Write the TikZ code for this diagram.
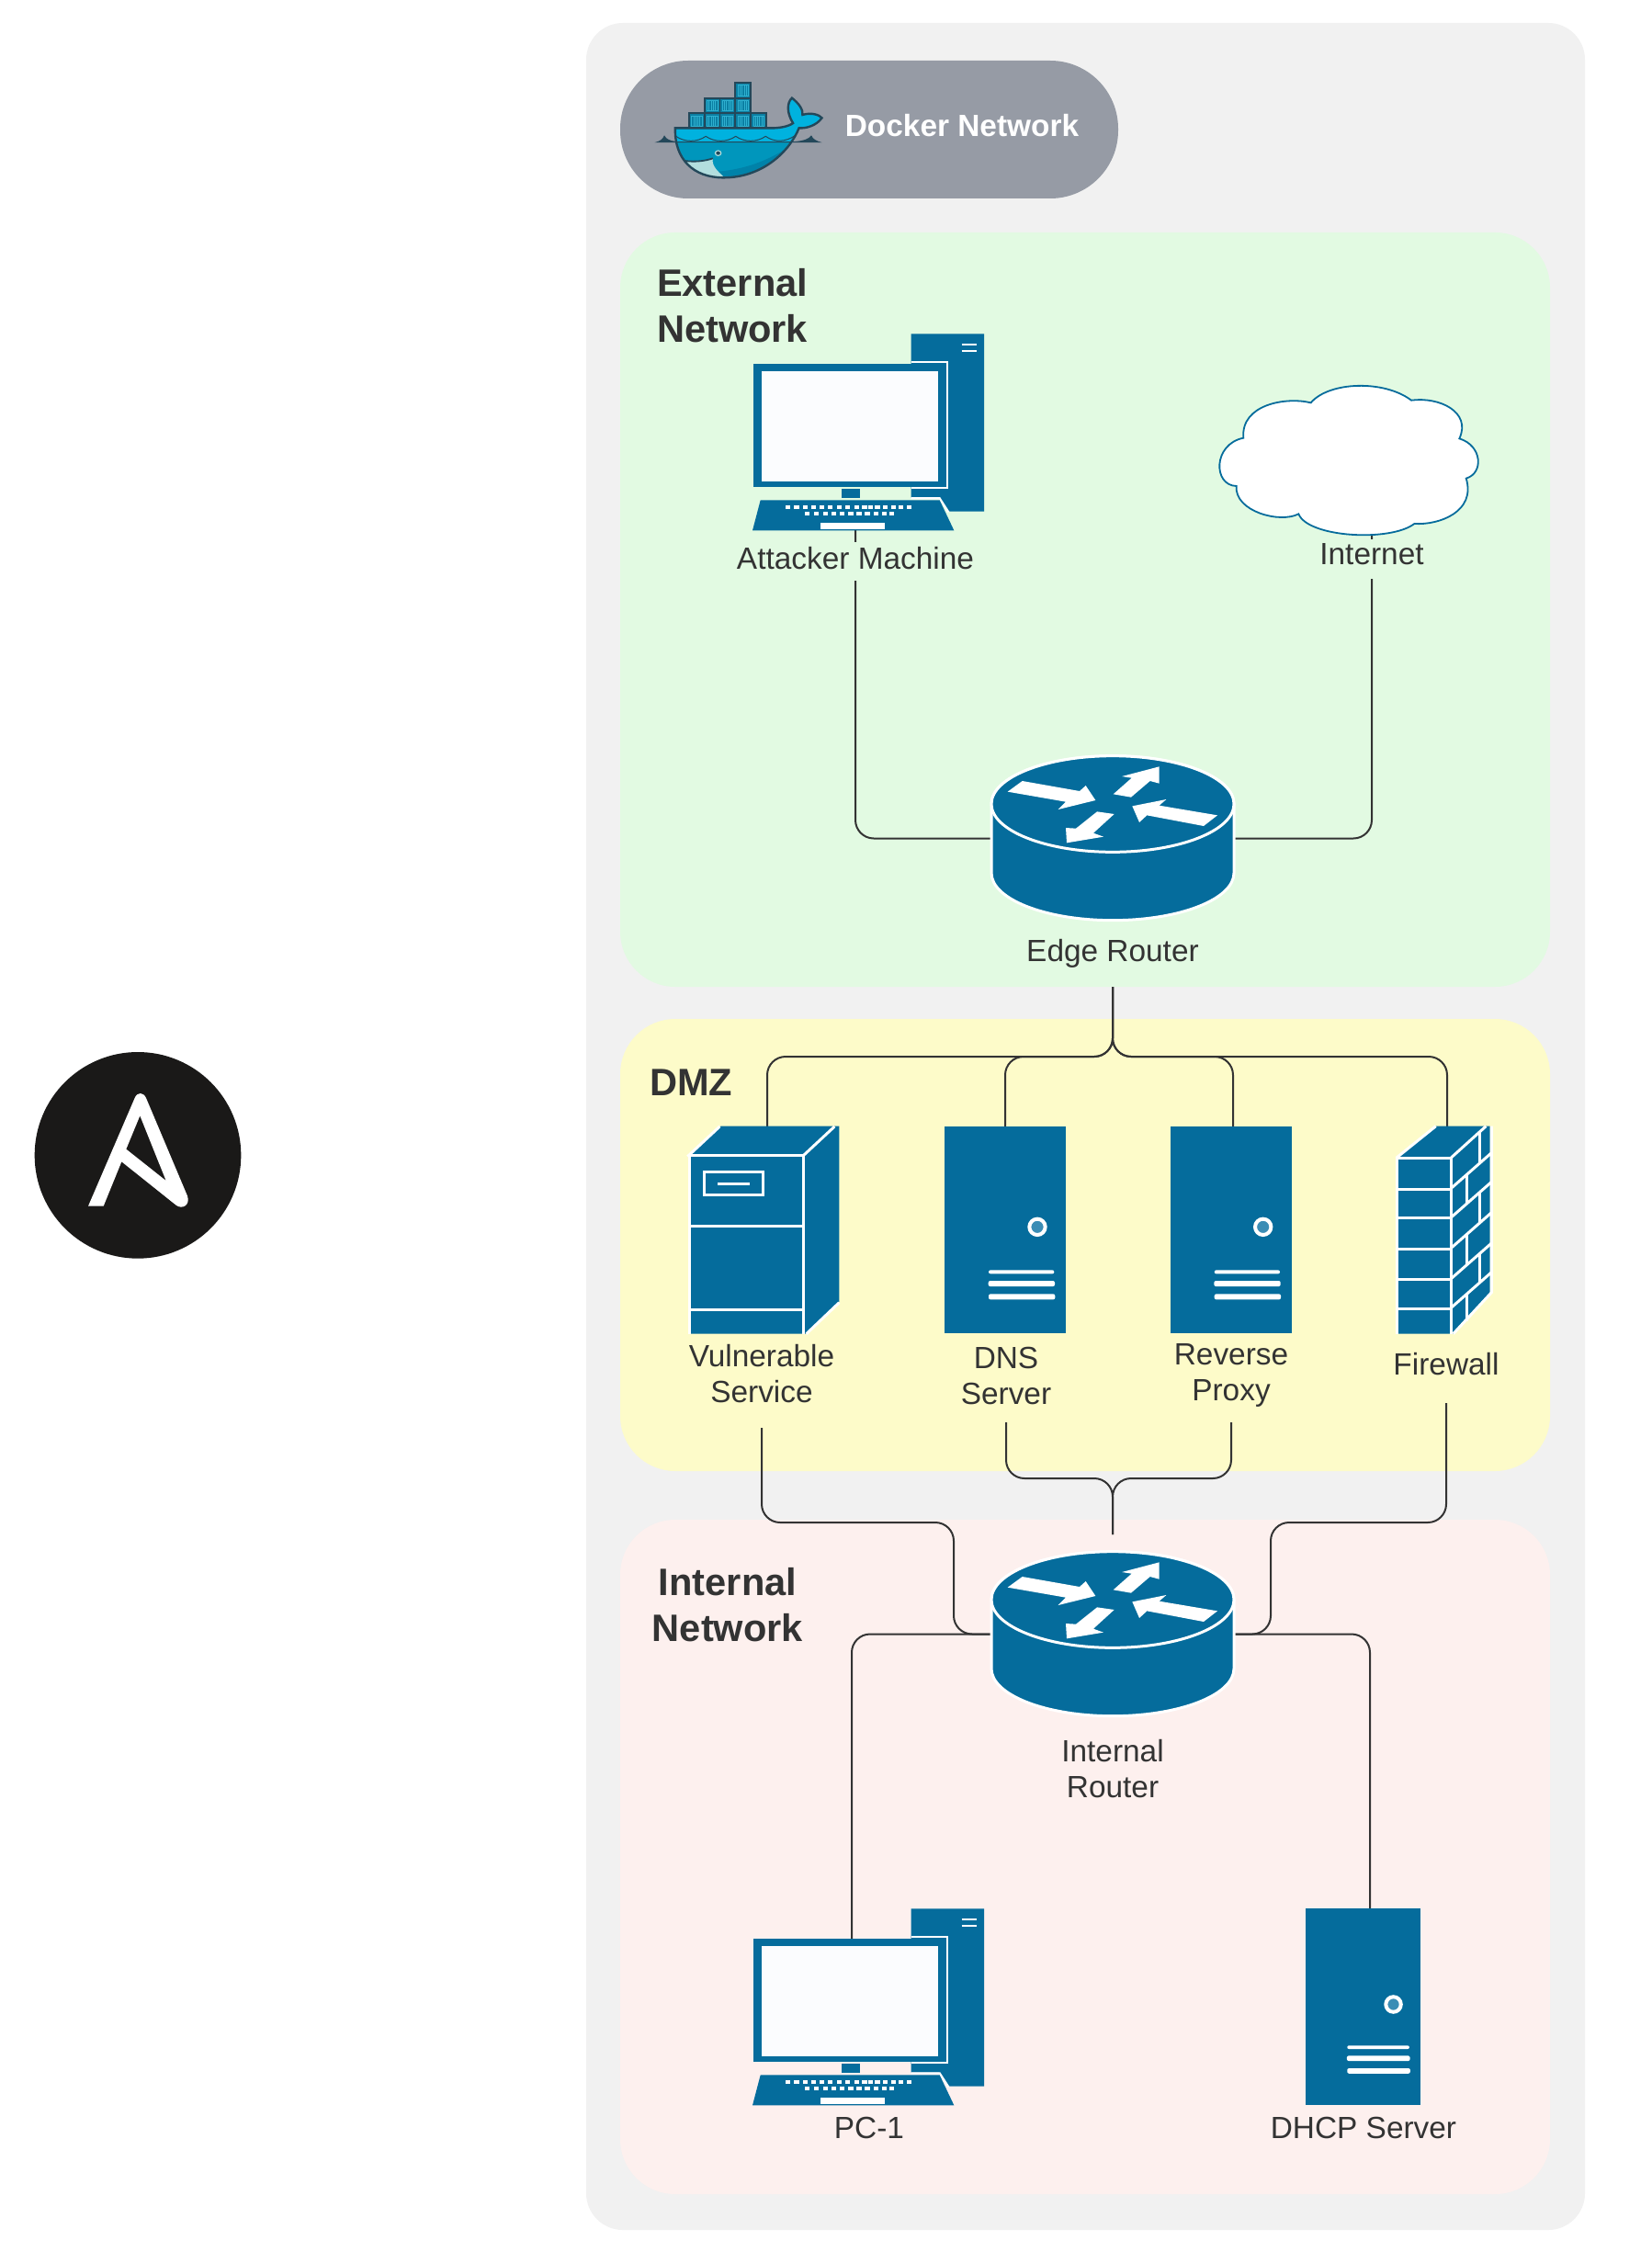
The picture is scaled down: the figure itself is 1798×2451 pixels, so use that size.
\documentclass[tikz,border=0pt]{standalone}
\usepackage{fontspec}
\setmainfont{Liberation Sans}
\definecolor{outerbg}{HTML}{F1F1F1}
\definecolor{pillc}{HTML}{969BA5}
\definecolor{greenz}{HTML}{E2FAE2}
\definecolor{yellowz}{HTML}{FDFBC9}
\definecolor{pinkz}{HTML}{FDF0EE}
\definecolor{devb}{HTML}{056C9C}
\definecolor{ledc}{HTML}{3B8DB5}
\definecolor{screenc}{HTML}{FBFCFE}
\definecolor{txt}{HTML}{333333}
\definecolor{wdark}{HTML}{24485A}
\definecolor{wup}{HTML}{00B2DF}
\definecolor{wmid}{HTML}{0096BC}
\definecolor{wlow}{HTML}{0082A9}
\definecolor{wbelly}{HTML}{B2DEDE}
\definecolor{wbox}{HTML}{0B7FA3}
\definecolor{wstripe}{HTML}{2FB0CF}
\definecolor{ansb}{HTML}{1A1918}
\newcommand{\whalepath}{(248,298) -- (510,298) .. controls (545,300) and (572,292) .. (583,282) .. controls (565,250) and (565,215) .. (580,200) .. controls (600,218) and (612,238) .. (610,255) .. controls (635,246) and (658,255) .. (665,265) .. controls (650,290) and (620,300) .. (600,298) .. controls (575,370) and (500,460) .. (385,460) .. controls (300,460) and (245,400) .. (248,298) -- cycle}
\tikzset{
  zm/.style={x=0.16667pt,y=-0.16667pt},
  wz/.style={x=0.19135pt,y=-0.16667pt},
  zone/.style={rounded corners=#1},
  link/.style={draw=txt,line width=1pt,rounded corners=10pt},
  wline/.style={draw=white,line width=1.5pt},
  dev/.style={inner sep=0pt,outer sep=0pt},
  lab/.style={font=\fontsize{16.7}{19.5}\selectfont,text=txt,inner sep=0pt,outer sep=0pt,align=center},
  head/.style={font=\fontsize{20.8}{25}\selectfont\bfseries,text=txt,inner sep=0pt,outer sep=0pt},
  netrouter/.pic={
    \begin{scope}[zm]
      \path[fill=devb,wline] (57,225) -- (57,450) .. controls (57,536) and (234,605) .. (453,605) .. controls (672,605) and (849,536) .. (849,450) -- (849,225) .. controls (849,138) and (672,68) .. (453,68) .. controls (234,68) and (57,138) .. (57,225) -- cycle;
      \path[fill=devb,wline] (453,225) ellipse [x radius=396,y radius=157];
      \fill[white] (110,185)--(158,150)--(345,183)--(365,165)--(397,213)--(275,243)--(300,218)--cycle;
      \fill[white] (455,193)--(515,140)--(483,135)--(605,103)--(605,158)--(575,150)--(513,203)--cycle;
      \fill[white] (795,262)--(750,297)--(565,262)--(540,285)--(517,232)--(628,210)--(605,230)--cycle;
      \fill[white] (458,258)--(390,320)--(423,332)--(303,352)--(300,303)--(333,305)--(402,250)--cycle;
    \end{scope}
  },
  netcomputer/.pic={
    \begin{scope}[zm]
      \fill[devb] (635,70)--(873,70)--(873,650)--(757,650)--(728,605)--(635,605)--cycle;
      \fill[devb] (120,168) rectangle (750,570);
      \fill[screenc] (148,192) rectangle (722,552);
      \draw[white,line width=1.1pt] (635,163)--(753,163)--(753,572)--(635,572);
      \draw[white,line width=1.1pt] (635,607)--(728,607)--(757,652);
      \draw[white,line width=1.1pt] (800,104)--(848,104) (800,126)--(848,126);
      \fill[devb] (408,576) rectangle (468,605);
      \fill[devb] (143,613)--(728,613)--(775,712)--(117,712)--cycle;
      \fill[white] (340,688) rectangle (549,707);
      \foreach \kx in {225,253,282,309,335,363,393,420,450,475,495,517,543,570,593,620} {\fill[white] (\kx,630) rectangle ++(16,11);}
      \foreach \kx in {288,318,347,374,402,430,457,484,512,540,563} {\fill[white] (\kx,652) rectangle ++(16,12);}
    \end{scope}
  },
  netserver/.pic={
    \begin{scope}[zm]
      \fill[devb] (55,48) rectangle (450,722);
      \fill[ledc,draw=white,line width=2pt] (357,376) circle [radius=26];
      \fill[white,rounded corners=1pt] (198,517) rectangle (412,529);
      \fill[white,rounded corners=1pt] (197,552) rectangle (414,570);
      \fill[white,rounded corners=1pt] (198,595) rectangle (415,613);
    \end{scope}
  },
  nettower/.pic={
    \begin{scope}[zm]
      \fill[devb] (60,173)--(163,77)--(550,77)--(550,650)--(440,755)--(60,755)--cycle;
      \draw[wline] (60,755)--(60,173)--(433,173)--(433,755);
      \draw[wline] (55,176)--(160,78) (433,173)--(535,78);
      \draw[wline] (550,653)--(443,755);
      \draw[wline] (60,403)--(433,403) (60,677)--(433,677);
      \draw[wline] (108,227) rectangle (300,302);
      \draw[wline] (153,264)--(257,264);
    \end{scope}
  },
  netwall/.pic={
    \begin{scope}[zm]
      \fill[devb] (60,148)--(188,47)--(365,47)--(365,590)--(245,725)--(60,725)--cycle;
      \draw[wline] (60,725)--(60,150)--(238,150)--(238,725);
      \draw[wline] (60,150)--(188,47);
      \foreach \ry in {252,347,447,547,642} {\draw[wline] (60,\ry)--(238,\ry);}
      \draw[wline] (238,150)--(352,47);
      \foreach \ry in {250,345,445,545,640} {\draw[wline] (238,\ry)--(370,\ry-116);}
      \draw[wline] (370,47)--(370,590)--(245,725);
      \draw[wline] (332,69)--(332,169) (290,206)--(290,301) (332,264)--(332,364) (290,401)--(290,501) (332,464)--(332,559) (290,596)--(290,685);
    \end{scope}
  },
  netcloud/.pic={
    \begin{scope}[zm]
      \path[fill=white,draw=devb,line width=.9pt] (160,230) .. controls (150,120) and (300,95) .. (380,115) .. controls (440,45) and (620,40) .. (708,107) .. controls (800,95) and (905,145) .. (865,232) .. controls (940,255) and (945,345) .. (887,362) .. controls (920,470) and (800,515) .. (718,510) .. controls (640,570) and (370,555) .. (340,478) .. controls (280,510) and (130,470) .. (137,387) .. controls (60,385) and (60,250) .. (160,230) -- cycle;
    \end{scope}
  },
  ansiblelogo/.pic={
    \begin{scope}[zm]
      \fill[ansb] (390,382) circle [radius=337];
      \fill[white,even odd rule] (228,548)--(380,195) .. controls (388,175) and (408,175) .. (417,195) -- (552,515) .. controls (562,545) and (535,560) .. (515,545) -- (337,403) -- (278,548) -- cycle (397,253)--(352,362)--(482,465)--cycle;
    \end{scope}
  },
  dockerwhale/.pic={
    \begin{scope}[wz]
      \foreach \bx/\by in {287/250,331/250,375/250,419/250,463/250,331/200,375/200,419/200,419/150} {
        \path[fill=wbox,draw=wdark,line width=.9pt] (\bx,\by) rectangle ++(44,50);
        \draw[wstripe,line width=.3pt] (\bx+7,\by+8) rectangle ++(30,34);
        \foreach \sx in {13,19,25,31} {\draw[wstripe,line width=.3pt] (\bx+\sx,\by+8)--++(0,34);}
      }
      \fill[wup] \whalepath;
      \begin{scope}
        \clip \whalepath;
        \fill[wmid] (240,345) rectangle (620,470);
        \fill[wlow] (600,340) .. controls (520,400) and (460,430) .. (372,440) -- (395,470) -- (600,470) -- cycle;
        \fill[wbelly] (270,405) .. controls (300,410) and (335,405) .. (355,397) .. controls (350,425) and (375,445) .. (398,470) -- (270,470) -- cycle;
        \draw[wdark,line width=.5pt] (250,325) .. controls (275,345) and (310,345) .. (335,325) .. controls (360,345) and (395,345) .. (420,325) .. controls (445,345) and (480,345) .. (505,325) .. controls (530,345) and (560,345) .. (590,322);
      \end{scope}
      \draw[wdark,line width=.9pt] (275,405) .. controls (305,410) and (335,405) .. (355,397);
      \fill[wdark] (190,345) .. controls (205,341) and (212,335) .. (217,322) .. controls (222,335) and (235,340) .. (250,342) -- (590,342) .. controls (610,340) and (628,335) .. (635,322) .. controls (640,335) and (650,341) .. (665,345) -- cycle;
      \path[draw=wdark,line width=1.2pt] \whalepath;
      \fill[wbelly] (370,380) circle [radius=10];
      \fill[wdark] (370,380) circle [radius=6];
    \end{scope}
  }
}
\begin{document}
\begin{tikzpicture}[x=0.5pt,y=-0.5pt]
\useasboundingbox (0,0) rectangle (1798,2451);
\fill[white] (0,0) rectangle (1798,2451);
% backgrounds
\fill[outerbg,zone=20pt] (638,25) rectangle (1725,2427);
\fill[pillc,zone=37pt] (675,66) rectangle (1217,216);
\fill[greenz,zone=30pt] (675,253) rectangle (1687,1074);
\fill[yellowz,zone=30pt] (675,1109) rectangle (1687,1601);
\fill[pinkz,zone=30pt] (675,1654) rectangle (1687,2388);
% device anchors
\node[dev,minimum width=110pt,minimum height=90.5pt] (att) at (931,486.5) {};
\node[dev,minimum width=100pt,minimum height=82pt] (cloud) at (1493,500) {};
\node[dev,minimum width=132pt,minimum height=89.5pt] (er) at (1211,912.5) {};
\node[dev,minimum width=132pt,minimum height=89.5pt] (ir) at (1211,1778.5) {};
\node[dev,minimum width=60pt,minimum height=113pt] (vs) at (835,1339) {};
\node[dev,minimum width=60pt,minimum height=113pt] (dns) at (1094,1339) {};
\node[dev,minimum width=60pt,minimum height=113pt] (rp) at (1342,1339) {};
\node[dev,minimum width=50pt,minimum height=113pt] (fw) at (1575,1339) {};
\node[dev,minimum width=110pt,minimum height=90.5pt] (pc) at (927,2200.5) {};
\node[dev,minimum width=60pt,minimum height=107pt] (dhcp) at (1491,2184) {};
% label boxes
\node[lab,minimum height=36.5pt] (erl) at (1211,1037.5) {Edge Router};
\node[lab,minimum height=59pt] (vsl) at (829,1495) {Vulnerable\\Service};
\node[lab,minimum height=51pt] (dnsl) at (1095,1497) {DNS\\Server};
\node[lab,minimum height=51pt] (rpl) at (1340,1497) {Reverse\\Proxy};
\node[lab,minimum height=42pt] (fwl) at (1574,1485) {Firewall};
\node[lab] (irl) at (1211,1925) {Internal\\Router};
\node[lab] (pcl) at (946,2316) {PC-1};
\node[lab] (dhcpl) at (1484,2316) {DHCP Server};
% junction coordinates
\coordinate (bustop) at (1211,1150);
\coordinate (busmid) at (1211,1609);
\coordinate (irtop) at (1211,1670);
\coordinate (viaL) at (1038,1657);
\coordinate (viaR) at (1383,1657);
% connectors
\draw[link] (att.south) |- (er.west);
\draw[link] (cloud.south) |- (er.east);
\draw[link] (erl.south) -- (bustop) -| (vs.north);
\draw[link] (erl.south) -- (bustop) -| (dns.north);
\draw[link] (erl.south) -- (bustop) -| (rp.north);
\draw[link] (erl.south) -- (bustop) -| (fw.north);
\draw[link] (dnsl.south) |- (busmid) -- (irtop);
\draw[link] (rpl.south) |- (busmid) -- (irtop);
\draw[link] (vsl.south) |- (viaL) |- (ir.west);
\draw[link] (fwl.south) |- (viaR) |- (ir.east);
\draw[link] (ir.west) -| (pc.north);
\draw[link] (ir.east) -| (dhcp.north);
% labels that hide the connectors passing behind them
\node[lab,fill=greenz,minimum height=21pt,minimum width=135pt] (attl) at (931,611) {\raisebox{4pt}{Attacker Machine}};
\node[lab,fill=greenz,minimum height=21.5pt,minimum width=75pt] (netl) at (1493,608.5) {\raisebox{5.5pt}{Internet}};
% devices
\pic at (780,340) {netcomputer};
\pic at (780,2054) {netcomputer};
\pic at (1300,400) {netcloud};
\pic at (1060,800) {netrouter};
\pic at (1060,1666) {netrouter};
\pic at (730,1200) {nettower};
\pic at (1010,1210) {netserver};
\pic at (1255.7,1210) {netserver};
\pic at (1500,1210) {netwall};
\pic[xscale=.949,yscale=.9525] at (1403.6,2062.1) {netserver};
\pic at (20,1130) {ansiblelogo};
\pic at (640,40) {dockerwhale};
% texts
\node[head,align=left,anchor=west] (exth) at (715,333) {External\\Network};
\node[head,anchor=west] (dmzh) at (707,1178) {DMZ};
\node[head,align=center] (inth) at (792,1747) {Internal\\Network};
\node[font=\fontsize{16.7}{20}\selectfont\bfseries,text=white,inner sep=0pt] (dockerl) at (1047,137) {Docker Network};
\end{tikzpicture}
\end{document}
